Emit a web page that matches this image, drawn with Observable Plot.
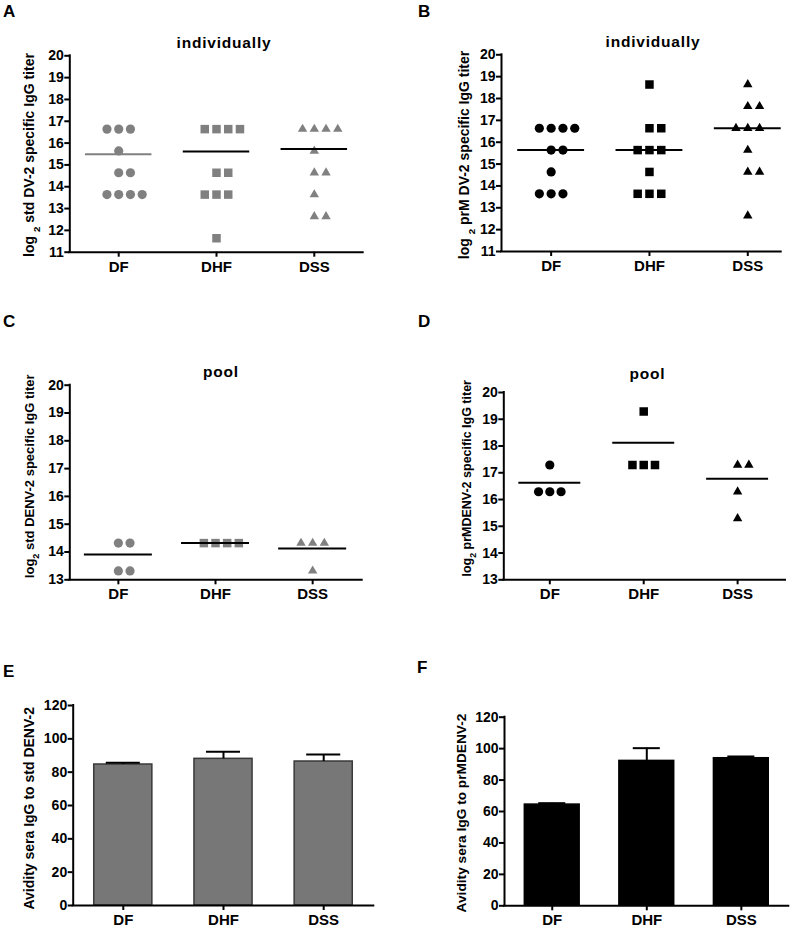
<!DOCTYPE html>
<html><head><meta charset="utf-8">
<script src="https://cdn.jsdelivr.net/npm/d3@7"></script>
<script src="https://cdn.jsdelivr.net/npm/@observablehq/plot@0.6"></script>
<style>
body{margin:0;background:#fff;}
#fig{position:relative;width:800px;height:927px;overflow:hidden;font-family:"Liberation Sans",Arial,sans-serif;}
#fig svg{position:absolute;}
</style></head><body><div id="fig"></div>
<script>
// ---------- DATA ----------
const categories = ["DF", "DHF", "DSS"];

// A: std DV-2, individually
const stdIndivDF  = [16.64,16.64,16.64,15.64,14.64,14.64,13.64,13.64,13.64,13.64];
const stdIndivDHF = [16.64,16.64,16.64,16.64,14.64,14.64,13.64,13.64,13.64,11.64];
const stdIndivDSS = [16.64,16.64,16.64,16.64,15.64,14.64,14.64,13.64,12.64,12.64];
const stdIndivLines = [15.49, 15.62, 15.73];

// B: prM DV-2, individually
const prmIndivDF  = [16.64,16.64,16.64,16.64,15.64,15.64,14.64,13.64,13.64,13.64];
const prmIndivDHF = [18.64,16.64,16.64,15.64,15.64,15.64,14.64,13.64,13.64,13.64];
const prmIndivDSS = [18.64,17.64,17.64,16.64,16.64,16.64,15.64,14.64,14.64,12.64];
const prmIndivLines = [15.64, 15.64, 16.64];

// C: std DENV-2, pool
const stdPoolDF  = [14.32,14.32,13.32,13.32];
const stdPoolDHF = [14.32,14.32,14.32,14.32];
const stdPoolDSS = [14.32,14.32,14.32,13.32];
const stdPoolLines = [13.91, 14.32, 14.13];

// D: prMDENV-2, pool
const prmPoolDF  = [17.29,16.29,16.29,16.29];
const prmPoolDHF = [19.29,17.29,17.29,17.29];
const prmPoolDSS = [17.29,17.29,16.29,15.29];
const prmPoolLines = [16.63, 18.12, 16.78];

// E: avidity std DENV-2
const avidStdMean = [84.6, 88.0, 86.4];
const avidStdErr  = [1.0, 4.2, 4.2];
// F: avidity prMDENV-2
const avidPrmMean = [64.4, 92.2, 93.9];
const avidPrmErr  = [0.9, 8.1, 1.1];

const titerTicksIndiv = [11,12,13,14,15,16,17,18,19,20];
const titerTicksPool  = [13,14,15,16,17,18,19,20];
const avidTicks = [0,20,40,60,80,100,120];

// ---------- HELPERS ----------
const fig = document.getElementById("fig");
const FONT = '"Liberation Sans", Arial, sans-serif';
const GRAY = "#808080";

function spread(values, cat) {
  const counts = d3.rollup(values, v => v.length, d => d);
  const seen = new Map();
  const ci = categories.indexOf(cat);
  return values.map(v => {
    const n = counts.get(v), k = seen.get(v) || 0;
    seen.set(v, k + 1);
    return {cat, ci, value: v, slot: k - Math.floor((n - 1) / 2)};
  });
}

function place(cfg, marks) {
  const {left, top, w, h, box, xDomain, yDomain} = cfg;
  const svg = Plot.plot({
    width: w, height: h,
    marginLeft: box[0] - left, marginRight: left + w - box[1],
    marginTop: box[2] - top, marginBottom: top + h - box[3],
    x: {domain: xDomain, axis: null},
    y: {domain: yDomain, axis: null},
    style: {fontFamily: FONT, fontWeight: "bold", fontSize: "14px", color: "#000", background: "transparent", overflow: "visible"},
    marks
  });
  svg.style.left = left + "px";
  svg.style.top = top + "px";
  fig.appendChild(svg);
}

function axes(cfg) {
  return [
    Plot.axisY({ticks: cfg.yTicks, tickFormat: d3.format("d"), tickSize: 5, tickPadding: 1, fontSize: 14, strokeWidth: 2, label: null}),
    Plot.axisX({ticks: [0,1,2], tickFormat: i => categories[i], tickSize: 5, tickPadding: 4, fontSize: 15, strokeWidth: 2, label: null}),
    Plot.ruleX([cfg.xDomain[0]], {strokeWidth: 2, strokeLinecap: "square"}),
    Plot.ruleY([cfg.yDomain[0]], {strokeWidth: 2, strokeLinecap: "square"})
  ];
}

function scatterPanel(cfg, groups, lines, color, lineColors, half) {
  const step = 0.12;
  const pts = categories.map((c, i) => spread(groups[i], c));
  const lineData = lines.map((v, i) => ({ci: i, value: v, color: lineColors[i]}));
  place(cfg, [
    Plot.dot(pts[0], {x: d => d.ci + d.slot * step, y: "value", symbol: "circle", r: 4.6, fill: color, stroke: null}),
    Plot.dot(pts[1], {x: d => d.ci + d.slot * step, y: "value", symbol: "square", r: 4.8, fill: color, stroke: null}),
    Plot.dot(pts[2], {x: d => d.ci + d.slot * step, y: "value", symbol: "triangle", r: 3.5, fill: color, stroke: null}),
    Plot.ruleY(lineData, {x1: d => d.ci - half, x2: d => d.ci + half, y: "value", stroke: d => d.color, strokeWidth: 2}),
    ...axes(cfg)
  ]);
}

function barPanel(cfg, means, errs, fill, stroke, barHalf, capHalf) {
  const data = means.map((m, i) => ({ci: i, mean: m, top: m + errs[i]}));
  place(cfg, [
    Plot.rectY(data, {x1: d => d.ci - barHalf, x2: d => d.ci + barHalf, y1: 0, y2: "mean", fill, stroke, strokeWidth: 1.5}),
    Plot.ruleX(data, {x: "ci", y1: "mean", y2: "top", stroke: "#000", strokeWidth: 2}),
    Plot.ruleY(data, {x1: d => d.ci - capHalf, x2: d => d.ci + capHalf, y: "top", stroke: "#000", strokeWidth: 2}),
    ...axes(cfg)
  ]);
}

// ---------- PANELS ----------
scatterPanel({left: 0, top: 0, w: 400, h: 300, box: [69.3, 362.7, 55.3, 251.7], xDomain: [-0.5, 2.5], yDomain: [11, 20], yTicks: titerTicksIndiv},
  [stdIndivDF, stdIndivDHF, stdIndivDSS], stdIndivLines, GRAY, [GRAY, "#000", "#000"], 0.34);

scatterPanel({left: 400, top: 0, w: 400, h: 300, box: [501, 780.7, 54.3, 251], xDomain: [-0.505, 2.34], yDomain: [11, 20], yTicks: titerTicksIndiv},
  [prmIndivDF, prmIndivDHF, prmIndivDSS], prmIndivLines, "#000", ["#000", "#000", "#000"], 0.34);

scatterPanel({left: 0, top: 300, w: 400, h: 310, box: [69.3, 361.7, 384.7, 579.3], xDomain: [-0.5, 2.51], yDomain: [13, 20], yTicks: titerTicksPool},
  [stdPoolDF, stdPoolDHF, stdPoolDSS], stdPoolLines, GRAY, ["#000", "#000", "#000"], 0.35);

scatterPanel({left: 400, top: 300, w: 400, h: 310, box: [503.3, 785, 392, 579.3], xDomain: [-0.49, 2.51], yDomain: [13, 20], yTicks: titerTicksPool},
  [prmPoolDF, prmPoolDHF, prmPoolDSS], prmPoolLines, "#000", ["#000", "#000", "#000"], 0.33);

barPanel({left: 0, top: 610, w: 400, h: 317, box: [72.7, 373.3, 705, 905], xDomain: [-0.5, 2.5], yDomain: [0, 120], yTicks: avidTicks},
  avidStdMean, avidStdErr, "#777777", "#3a3a3a", 0.29, 0.17);

barPanel({left: 400, top: 610, w: 400, h: 317, box: [504, 788.3, 716.7, 905.3], xDomain: [-0.505, 2.502], yDomain: [0, 120], yTicks: avidTicks},
  avidPrmMean, avidPrmErr, "#000", "#000", 0.29, 0.143);

// ---------- TEXT OVERLAY ----------
const ov = d3.select(fig).append("svg")
  .attr("width", 800).attr("height", 927)
  .style("left", "0px").style("top", "0px")
  .style("pointer-events", "none")
  .style("font-family", FONT).style("font-weight", "bold");

const letters = [["A", 3, 17], ["B", 418, 17], ["C", 3, 326.5], ["D", 418, 326.7], ["E", 3, 676.7], ["F", 417, 673.3]];
letters.forEach(([t, x, y]) => ov.append("text").attr("x", x).attr("y", y).style("font-size", "17px").text(t));

const titles = [["individually", 224, 48], ["individually", 653, 46.5], ["pool", 221, 377.3], ["pool", 647.5, 379]];
titles.forEach(([t, x, y]) => ov.append("text").attr("x", x).attr("y", y).attr("text-anchor", "middle")
  .style("font-size", "15.5px").style("letter-spacing", "0.8px").text(t));

function ytitle(x, y, size, parts) {
  const t = ov.append("text").attr("transform", `translate(${x},${y}) rotate(-90)`)
    .attr("text-anchor", "middle").style("font-size", size + "px");
  parts.forEach(([s, sub]) => {
    const ts = t.append("tspan").text(s);
    if (sub) ts.style("font-size", (size * 0.7) + "px").attr("baseline-shift", "sub");
  });
}
ytitle(33.7, 155, 14, [["log ", false], ["2", true], [" std DV-2 specific IgG titer", false]]);
ytitle(469, 155, 14, [["log ", false], ["2", true], [" prM DV-2 specific IgG titer", false]]);
ytitle(34, 476.3, 13, [["log", false], ["2", true], [" std DENV-2 specific IgG titer", false]]);
ytitle(470.5, 478.3, 12.5, [["log", false], ["2", true], [" prMDENV-2 specific IgG titer", false]]);
ytitle(33.7, 808.3, 14, [["Avidity sera IgG to std DENV-2", false]]);
ytitle(465.5, 813, 13.7, [["Avidity sera IgG to prMDENV-2", false]]);
</script>
</body></html>
